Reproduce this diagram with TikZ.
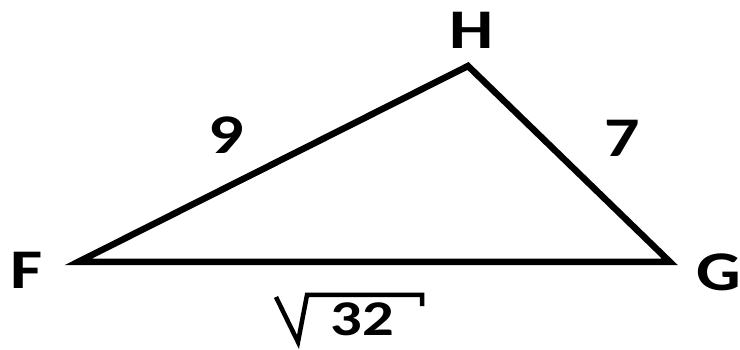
\documentclass[tikz,border=0pt]{standalone}
\usepackage{fontspec}
\setmainfont{Carlito}
\usetikzlibrary{calc}

\begin{document}
\begin{tikzpicture}[x=1pt,y=-1pt,
    side/.style={line width=6.5pt,line join=miter},
    rad/.style={line width=4.5pt,line join=miter},
    lbl/.style={font=\bfseries\fontsize{56}{56}\selectfont,inner sep=0pt,xscale=1.25}]
\useasboundingbox (0,0) rectangle (740,350);
\coordinate (F) at (78,262);
\coordinate (G) at (670,262);
\coordinate (H) at (468,66);
\draw[side] (F) -- (H) -- (G) -- cycle;
\node[lbl] (lF) at (27,270) {F};
\node[lbl] (lG) at (719,272) {G};
\node[lbl] (lH) at (472,30) {H};
\node[lbl] (nine) at (226,135) {9};
\node[lbl] (seven) at (622,138) {7};
\node[lbl,font=\bfseries\fontsize{50}{50}\selectfont] (r) at (362,319) {32};
% radical sign over 32
\draw[rad] ($(r)+(-86,-22)$) -- ($(r)+(-64,23)$) -- ($(r)+(-55,-24)$)
  -- ($(r)+(60,-24)$) -- ($(r)+(60,-13)$);
\end{tikzpicture}
\end{document}
